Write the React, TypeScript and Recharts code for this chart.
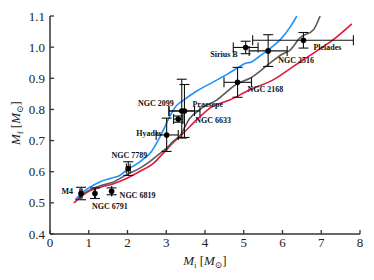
import React from 'react';
import { ComposedChart, Line, Scatter, XAxis, YAxis, ErrorBar, Label } from 'recharts';

// white dwarf clusters: initial mass, final mass, and asymmetric errors [minus, plus]
const clusters = ['M4', 'NGC 6791', 'NGC 6819', 'NGC 7789', 'Hyades', 'NGC 6633', 'NGC 2099', 'Praesepe', 'NGC 2168', 'Sirius B', 'NGC 2516', 'Pleiades'];
const initialMass = [0.8, 1.16, 1.59, 2.02, 3.01, 3.31, 3.4, 3.47, 4.84, 5.05, 5.63, 6.54];
const finalMass = [0.53, 0.53, 0.537, 0.61, 0.718, 0.769, 0.795, 0.795, 0.887, 0.999, 0.988, 1.022];
const initialErr = [[0.03, 0.03], [0, 0], [0, 0], [0.05, 0.05], [0.27, 0.3], [0.12, 0.12], [0.33, 0.33], [0.4, 0.4], [0.35, 0.36], [0.32, 0.32], [0.49, 0.49], [1.31, 1.29]];
const finalErr = [[0.02, 0.02], [0.016, 0.018], [0.011, 0.011], [0.022, 0.022], [0.053, 0.054], [0.01, 0.01], [0.087, 0.102], [0.085, 0.085], [0.048, 0.048], [0.02, 0.02], [0.05, 0.052], [0.025, 0.025]];

// model relations [Mi, Mf]
const blueCurve = [[0.65, 0.51], [0.8, 0.53], [1.0, 0.548], [1.3, 0.568], [1.6, 0.58], [1.8, 0.588], [2.0, 0.608], [2.2, 0.622], [2.4, 0.64], [2.6, 0.662], [2.8, 0.703], [2.95, 0.74], [3.1, 0.78], [3.25, 0.81], [3.45, 0.83], [3.8, 0.86], [4.2, 0.887], [4.6, 0.915], [4.9, 0.938], [5.05, 0.948], [5.2, 0.952], [5.4, 0.97], [5.7, 0.998], [5.95, 1.025], [6.2, 1.065], [6.37, 1.1]];
const grayCurve = [[0.7, 0.515], [1.0, 0.54], [1.3, 0.555], [1.6, 0.565], [2.0, 0.592], [2.3, 0.61], [2.6, 0.635], [2.85, 0.66], [3.0, 0.675], [3.2, 0.7], [3.35, 0.715], [3.6, 0.77], [3.87, 0.8], [4.3, 0.83], [4.86, 0.885], [5.16, 0.9], [5.59, 0.94], [6.0, 0.978], [6.19, 0.99], [6.45, 1.03], [6.8, 1.056], [6.97, 1.1]];
const redCurve = [[0.62, 0.5], [0.8, 0.52], [1.0, 0.537], [1.3, 0.55], [1.6, 0.56], [2.0, 0.58], [2.3, 0.6], [2.67, 0.627], [2.92, 0.659], [3.15, 0.69], [3.44, 0.724], [3.79, 0.767], [4.13, 0.804], [4.65, 0.831], [5.16, 0.863], [5.76, 0.895], [6.28, 0.938], [6.8, 0.981], [7.31, 1.024], [7.79, 1.075]];

const xTicks = [0, 1, 2, 3, 4, 5, 6, 7, 8];
const yTicks = [0.4, 0.5, 0.6, 0.7, 0.8, 0.9, 1.0, 1.1];

// where each cluster name sits relative to its point
const labelPos: Record<string, { dx: number; dy: number; anchor: string }> = {
  'M4': { dx: -8, dy: 0, anchor: 'end' },
  'NGC 6791': { dx: -3, dy: 15, anchor: 'start' },
  'NGC 6819': { dx: 8, dy: 7, anchor: 'start' },
  'NGC 7789': { dx: 1, dy: -11, anchor: 'middle' },
  'Hyades': { dx: -5, dy: 1, anchor: 'end' },
  'NGC 6633': { dx: 17, dy: 4, anchor: 'start' },
  'NGC 2099': { dx: -8, dy: -5, anchor: 'end' },
  'Praesepe': { dx: 8, dy: -4, anchor: 'start' },
  'NGC 2168': { dx: 10, dy: 10, anchor: 'start' },
  'Sirius B': { dx: -8, dy: 10, anchor: 'end' },
  'NGC 2516': { dx: 10, dy: 12, anchor: 'start' },
  'Pleiades': { dx: 10, dy: 10, anchor: 'start' },
};

const serif = '"Liberation Serif", "DejaVu Serif", serif';
const axisColor = '#333';

const points = clusters.map((name, i) => ({
  name,
  x: initialMass[i],
  y: finalMass[i],
  ex: initialErr[i],
  ey: finalErr[i],
}));
const toRows = (c: number[][]) => c.map(([x, y]) => ({ x, y }));

const BottomTick = ({ x, y, payload }: any) => (
  <g>
    <line x1={x} x2={x} y1={y} y2={y - 4} stroke={axisColor} strokeWidth={1.3} />
    <text x={x} y={y + 13} textAnchor="middle" fontSize={13} fontFamily={serif} fill="#222">{payload.value}</text>
  </g>
);
const LeftTick = ({ x, y, payload }: any) => (
  <g>
    <line x1={x} x2={x + 4} y1={y} y2={y} stroke={axisColor} strokeWidth={1.3} />
    <text x={x - 5} y={y + 4.5} textAnchor="end" fontSize={13} fontFamily={serif} fill="#222">{Number(payload.value).toFixed(1)}</text>
  </g>
);
const TopTick = ({ x, y }: any) => <line x1={x} x2={x} y1={y} y2={y + 4} stroke={axisColor} strokeWidth={1.3} />;
const RightTick = ({ x, y }: any) => <line x1={x} x2={x - 4} y1={y} y2={y} stroke={axisColor} strokeWidth={1.3} />;

const ClusterDot = (p: any) => {
  const pos = labelPos[p.payload.name];
  return (
    <g>
      <circle cx={p.cx} cy={p.cy} r={2.8} fill="#000" />
      <text x={p.cx + pos.dx} y={p.cy + pos.dy} textAnchor={pos.anchor} fontSize={8} fontWeight="bold" fontFamily={serif} fill="#111">
        {p.payload.name}
      </text>
    </g>
  );
};

const XTitle = ({ viewBox }: any) => (
  <text x={viewBox.x + viewBox.width / 2} y={viewBox.y + 31} textAnchor="middle" fontSize={13} fontFamily={serif} fill="#222">
    <tspan fontStyle="italic">M</tspan>
    <tspan fontSize={8} dy={3}>i</tspan>
    <tspan dy={-3}> [</tspan>
    <tspan fontStyle="italic">M</tspan>
    <tspan fontSize={9} dy={3}>⊙</tspan>
    <tspan dy={-3}>]</tspan>
  </text>
);
const YTitle = ({ viewBox }: any) => {
  const cx = 20;
  const cy = viewBox.y + viewBox.height / 2 - 2;
  return (
    <text x={cx} y={cy} transform={`rotate(-90 ${cx} ${cy})`} textAnchor="middle" fontSize={13} fontFamily={serif} fill="#222">
      <tspan fontStyle="italic">M</tspan>
      <tspan fontSize={8} dy={3}>f</tspan>
      <tspan dy={-3}> [</tspan>
      <tspan fontStyle="italic">M</tspan>
      <tspan fontSize={9} dy={3}>⊙</tspan>
      <tspan dy={-3}>]</tspan>
    </text>
  );
};

export default function App() {
  return (
    <div style={{ position: 'absolute', left: 0, top: 0, background: '#fff' }}>
      <ComposedChart width={374} height={280} margin={{ top: 16, right: 14, bottom: 0, left: 0 }}>
        <XAxis dataKey="x" type="number" domain={[0, 8]} ticks={xTicks} height={46}
          tickSize={0} tickMargin={0} tick={<BottomTick />} axisLine={{ stroke: axisColor, strokeWidth: 1.5 }} allowDataOverflow>
          <Label content={<XTitle />} />
        </XAxis>
        <XAxis xAxisId="t" orientation="top" dataKey="x" type="number" domain={[0, 8]} ticks={xTicks} height={0}
          tickSize={0} tickMargin={0} tick={<TopTick />} axisLine={{ stroke: axisColor, strokeWidth: 1.5 }} allowDataOverflow />
        <YAxis dataKey="y" type="number" domain={[0.4, 1.1]} ticks={yTicks} width={50}
          tickSize={0} tickMargin={0} tick={<LeftTick />} axisLine={{ stroke: axisColor, strokeWidth: 1.5 }} allowDataOverflow>
          <Label content={<YTitle />} />
        </YAxis>
        <YAxis yAxisId="r" orientation="right" dataKey="y" type="number" domain={[0.4, 1.1]} ticks={yTicks} width={0}
          tickSize={0} tickMargin={0} tick={<RightTick />} axisLine={{ stroke: axisColor, strokeWidth: 1.5 }} allowDataOverflow />

        <Line data={toRows(redCurve)} dataKey="y" type="monotone" stroke="#e3173d" strokeWidth={1.6} dot={false} isAnimationActive={false} />
        <Line data={toRows(grayCurve)} dataKey="y" type="monotone" stroke="#5a5a5a" strokeWidth={1.6} dot={false} isAnimationActive={false} />
        <Line data={toRows(blueCurve)} dataKey="y" type="monotone" stroke="#1e90ff" strokeWidth={1.6} dot={false} isAnimationActive={false} />

        <Scatter data={points} dataKey="y" shape={<ClusterDot />} isAnimationActive={false}>
          <ErrorBar dataKey="ex" direction="x" width={5} stroke="#111" strokeWidth={1.1} isAnimationActive={false} />
          <ErrorBar dataKey="ey" direction="y" width={5} stroke="#111" strokeWidth={1.1} isAnimationActive={false} />
        </Scatter>
      </ComposedChart>
    </div>
  );
}
